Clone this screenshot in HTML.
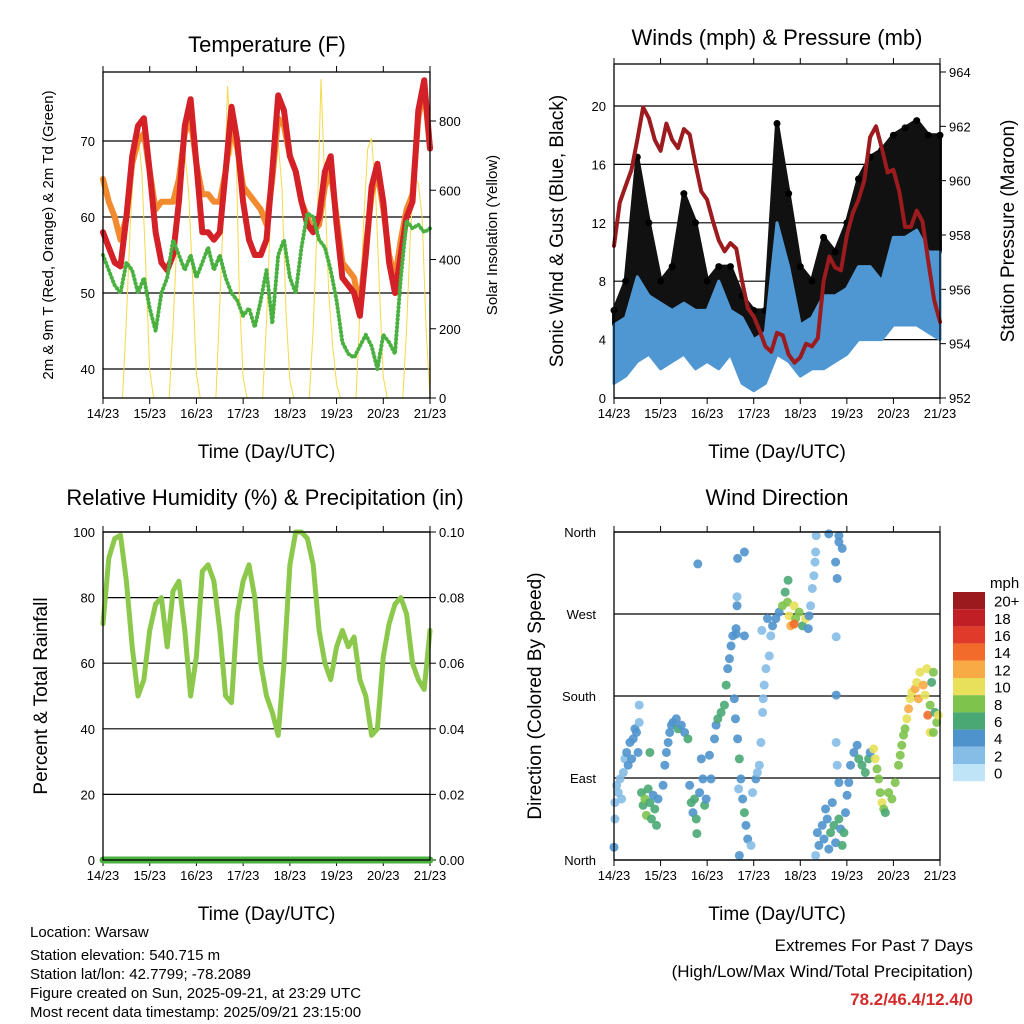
<!DOCTYPE html>
<html><head><meta charset="utf-8"><style>
html,body{margin:0;padding:0;background:#fff;}
svg{display:block;font-family:"Liberation Sans",sans-serif;}
</style></head><body>
<svg id="s" width="1024" height="1024" viewBox="0 0 1024 1024" xmlns="http://www.w3.org/2000/svg">
<rect width="1024" height="1024" fill="#fff"/>
<text x="267" y="52" font-size="22" text-anchor="middle">Temperature (F)</text>
<text x="777" y="45" font-size="22" text-anchor="middle">Winds (mph) &amp; Pressure (mb)</text>
<text x="265" y="505" font-size="22" text-anchor="middle">Relative Humidity (%) &amp; Precipitation (in)</text>
<text x="777" y="505" font-size="22" text-anchor="middle">Wind Direction</text>
<text x="53" y="235" font-size="15" text-anchor="middle" transform="rotate(-90 53 235)">2m &amp; 9m T (Red, Orange) &amp; 2m Td (Green)</text>
<text x="497" y="235" font-size="15" text-anchor="middle" transform="rotate(-90 497 235)">Solar Insolation (Yellow)</text>
<text x="563" y="231" font-size="19" text-anchor="middle" transform="rotate(-90 563 231)">Sonic Wind &amp; Gust (Blue, Black)</text>
<text x="1014" y="231" font-size="19" text-anchor="middle" transform="rotate(-90 1014 231)">Station Pressure (Maroon)</text>
<text x="47" y="696" font-size="19" text-anchor="middle" transform="rotate(-90 47 696)">Percent &amp; Total Rainfall</text>
<text x="541" y="696" font-size="19" text-anchor="middle" transform="rotate(-90 541 696)">Direction (Colored By Speed)</text>
<g font-size="15">
<text x="30" y="937">Location: Warsaw</text>
<text x="30" y="960">Station elevation: 540.715 m</text>
<text x="30" y="979">Station lat/lon: 42.7799; -78.2089</text>
<text x="30" y="998">Figure created on Sun, 2025-09-21, at 23:29 UTC</text>
<text x="30" y="1017">Most recent data timestamp: 2025/09/21 23:15:00</text>
</g>
<g font-size="17" text-anchor="end">
<text x="973" y="951">Extremes For Past 7 Days</text>
<text x="973" y="977">(High/Low/Max Wind/Total Precipitation)</text>
<text x="973" y="1005" font-weight="bold" fill="#d42a2a">78.2/46.4/12.4/0</text>
</g>
</svg>
<script>
// ---- data ----
const dayLabels=["14/23","15/23","16/23","17/23","18/23","19/23","20/23","21/23"];
const temp2m=[58,56,54,53.5,60,68,72,73,66,58,54,53,55,62,72,75.5,67,58,58,57,58,66,74.5,70,62,57,55,55,57,66,76,74,68,66,62,59,58,60,66,68,59,52,51,50,47,55,64,67,62,54,50,55,60,62,74,78,69];
const temp9m=[65,62,60,57,60,67,70,71,66,61,62,62,62,65,71,73,67,63,63,62,62,66,72,69,64,63,62,61,59,65,73,72,68,66,62,60,58,59,64,66,60,54,53,52,48,56,63,66,61,55,52,57,61,63,73,77,69];
const dewpoint=[55,53,51,50,54,53,50,52,48,45,50,52,57,55,53,55,52,54,56,53,55,52,50,49,47,48,45.5,49,53,46,55,57,52,50,56,60.5,60,57,56,53,49,43.5,42,41.5,43,44.5,43,40,44.5,43.5,42,52,59.5,58.5,59,58,58.5];
const solar=[0,0,0,0,0,0,230,500,690,770,650,380,80,0,0,0,0,0,210,460,640,710,600,350,70,0,0,0,0,0,270,560,900,700,820,300,60,0,0,0,0,0,220,520,760,740,600,250,50,0,0,0,0,0,200,500,920,600,300,150,40,0,0,0,0,0,250,520,720,750,600,320,60,0,0,0,0,0,200,480,640,620,520,200,0];
const tempTicks=[40,50,60,70];
const solarTicks=[0,200,400,600,800];
const windHi=[5,5.5,8.3,7,6.5,6,6.5,6,6,8,6,5.5,4,4.5,12,9,5,5.5,7,7,7.5,9,9,8,11,11,11.5,10,10];
const windLo=[1,1.5,2.5,3,2,2.5,3,2,2.5,2,3,1,0.5,1,3,2.5,1.5,2,2,2.5,3,4,4,4,5,5,5,4.5,4];
const gustHi=[6,8,16.5,12,8,9,14,12,8,9,9,7,6,6,18.8,14,9,8,11,10,12,15,16.5,17,18,18.5,19,18,18];
const pressure=[957.6,959.2,959.8,960.4,961.5,962.7,962.3,961.5,961.1,962.1,961.5,961.2,961.9,961.7,960.6,959.6,959.3,958.5,957.8,957.4,957.7,957.5,956.3,955.3,955.0,954.5,953.9,953.7,954.4,954.3,953.6,953.3,953.5,954.0,953.9,954.2,956.3,957.2,956.8,956.7,958.0,958.8,959.3,960.0,961.6,962.0,961.2,960.3,960.4,959.6,958.3,958.3,958.9,958.5,957.0,955.6,954.8];
const windTicks=[0,4,8,12,16,20];
const presTicks=[952,954,956,958,960,962,964];
const rh=[72,92,98,99,85,65,50,55,70,78,80,65,82,85,70,50,62,88,90,85,70,50,48,75,85,90,80,60,50,45,38,60,90,100,100,98,90,70,60,55,65,70,65,68,55,50,38,40,62,72,78,80,75,60,55,52,70];
const precip=[0,0,0,0,0,0,0,0];
const rhTicks=[0,20,40,60,80,100];
const precipTicks=["0.00","0.02","0.04","0.06","0.08","0.10"];
const dirHours=[0.5,1.4,2.2,3.1,3.9,4.8,5.6,6.5,7.3,8.2,9.1,9.9,10.8,11.6,12.4,13,13,0.5,0,14.2,15,15.9,16.7,17.6,18.5,19.3,20.2,21,21.9,18.5,22.7,25.3,26.2,27,27.9,28.7,29.6,30.4,32.1,33,34.7,36.4,38.1,43.2,39,39.8,40.7,41.5,42.4,42.7,44.1,45,45.8,46.7,47.5,49.2,50,51.8,52.6,53.5,55.2,56.9,57.8,58.6,59.5,60.3,61.2,62.9,67.2,62,62.6,63.7,64.6,65.4,66.3,67.2,68,68.9,64.6,70.6,71.4,73.1,73.9,74.9,63.7,67.2,63.4,63.4,62.9,64.2,75.7,76.6,76.9,77.4,78.3,80,80.8,76.2,79.1,81.7,83.4,85.1,86.8,88.2,89.4,90.2,91.1,92.8,93.6,89.7,95.4,97.1,98.8,100.5,100.1,92.8,101.3,102.2,103,103.6,103.9,104.2,110.7,115.9,117.6,114.2,115,115.9,114.5,114.5,114.5,115,115.9,104.8,105.6,107.3,108.2,109,109.9,110.7,111.6,112.5,113.3,114.2,115.9,116.8,117.6,118.5,119.3,103.9,120.1,121,121.9,123.6,125.3,126.1,127.8,129.5,131.2,132,133.8,134.6,135.5,136.4,137.2,138.1,139,139.8,141.5,143.2,144.9,146.6,147.5,148.3,149.2,150,150.9,151.8,152.6,153.5,155.2,156,156.9,157.7,159.4,160.3,161.2,161.7,162.9,163.7,164.6,165.4,166.3,167.1,162.9,164.6];
const dirDeg=[63,82,74,89,67,96,111,118,104,129,111,133,144,140,118,151,170,45,14,74,60,67,49,78,63,45,71,56,38,118,67,82,104,118,129,140,148,151,155,144,148,140,133,325,82,63,52,67,45,29,74,111,89,60,67,115,89,133,148,155,162,170,192,210,221,235,246,254,246,177,155,133,111,89,67,52,38,23,5,16,74,89,96,104,331,338,289,279,248,78,129,162,177,192,210,224,246,252,265,257,265,272,279,294,283,268,257,279,265,307,272,257,265,268,254,259,279,298,312,327,338,356,358,356,342,327,309,349,245,181,129,104,85,30,16,38,23,56,45,12,30,63,38,19,45,34,16,30,52,5,71,85,104,118,126,111,104,96,111,118,122,111,100,89,74,63,56,52,74,67,85,104,115,126,137,144,155,166,177,184,188,195,177,206,192,181,210,159,170,195,206,162,151,159,140,140];
const dirSpeed=[2,2,2,2,2,2,2,3,3,3,4,4,4,4,3,2,1,2,3,6,5,7,7,5,6,6,4,5,6,6,4,4,4,4,4,4,4,4,4,6,4,4,6,4,4,6,4,6,5,6,4,4,4,6,4,4,4,4,4,6,6,6,6,4,4,4,4,4,4,4,4,4,6,4,4,6,4,4,4,2,2,4,2,2,4,4,2,4,4,2,2,1,1,2,1,2,2,1,4,4,4,4,7,6,8,9,12,10,8,6,8,6,10,4,4,13,2,2,2,1,2,2,4,4,4,4,4,4,2,4,2,2,4,4,4,4,4,4,4,4,6,4,6,4,6,4,6,6,4,2,4,4,4,4,4,6,6,6,6,4,10,10,8,8,7,10,7,6,7,7,7,7,8,8,8,8,10,12,10,10,12,10,12,10,12,10,10,13,8,6,8,6,8,10,10,8];
const dirLabels=["North","East","South","West","North"];
const speedLevels=["0","2","4","6","8","10","12","14","16","18","20+"];
const speedColors=["#bfe4f7","#85bde7","#4f93cd","#4aa874","#7ec34c","#e8e05a","#f8aa45","#f26b2a","#e03a2a","#c01f26","#9a1a1e"];

const NS="http://www.w3.org/2000/svg";
const svg=document.getElementById('s');
function mk(tag,attrs,parent){const e=document.createElementNS(NS,tag);for(const k in attrs)e.setAttribute(k,attrs[k]);(parent||svg).appendChild(e);return e;}
function txt(x,y,s,size,anchor,parent){const t=mk('text',{x:x,y:y,'font-size':size,'text-anchor':anchor},parent);t.textContent=s;return t;}
function lin(d0,d1,r0,r1){return v=>r0+(v-d0)*(r1-r0)/(d1-d0);}

function frame(name,x0,x1,y0,y1){
  const g=mk('g',{});
  
  
  const X=lin(0,168,x0,x1);
  for(let i=0;i<dayLabels.length;i++){
    const x=X(i*24);
    mk('line',{x1:x,x2:x,y1:y1,y2:y1+6,stroke:'#000','stroke-width':1},g);
    mk('line',{x1:x,x2:x,y1:y0,y2:y0-6,stroke:'#000','stroke-width':1},g);
    const t=txt(x,y1+20,dayLabels[i],13,'middle',g);
    
    
  }
  const t=txt((x0+x1)/2,y1+60,'Time (Day/UTC)',19,'middle',g);
  
  
  return {g,X};
}
function box(x0,x1,y0,y1){mk('rect',{x:x0,y:y0,width:x1-x0,height:y1-y0,fill:'none',stroke:'#000','stroke-width':1.3});}
function grid(g,Y,ticks,x0,x1,labels,side){
  ticks.forEach((v,i)=>{const y=Y(v);
    mk('line',{x1:x0,x2:x1,y1:y,y2:y,stroke:'#000','stroke-width':1.2},g);
    const t=txt(side==='left'?x0-8:x1+8,y+5,labels?labels[i]:String(v),13,side==='left'?'end':'start',g);
    
    
  });
}
function rticks(g,Y,ticks,x1,labels){
  ticks.forEach((v,i)=>{const y=Y(v);
    mk('line',{x1:x1,x2:x1+6,y1:y,y2:y,stroke:'#000'},g);
    const t=txt(x1+9,y+5,labels?labels[i]:String(v),13,'start',g);
    
    
  });
}
function path(arr,X,Y,step,stroke,w,name,dots){
  let d='';arr.forEach((v,i)=>{d+=(i?'L':'M')+X(i*step).toFixed(1)+','+Y(v).toFixed(1);});
  const p=mk('path',{d:d,fill:'none',stroke:stroke,'stroke-width':w,'stroke-linejoin':'round','stroke-linecap':'round'});
  if(dots)p.setAttribute('stroke-dasharray','0.5 3.5');
  
  
  return p;
}

// ---- Panel 1: temperature ----
{const x0=103,x1=430,y0=72,y1=398;
 const f=frame('temperature',x0,x1,y0,y1);
 const Y=lin(40,70,369,141), YS=lin(0,800,398,121);
 grid(f.g,Y,tempTicks,x0,x1,null,'left');
 path(solar,f.X,YS,2,'#f6d94a',1,'solar-line');
 path(temp9m,f.X,Y,3,'#f28a30',6,'temp-9m-line');
 path(temp2m,f.X,Y,3,'#d42027',6,'temp-2m-line');
 path(dewpoint,f.X,Y,3,'#4ab040',4,'dewpoint-line',true);
 rticks(f.g,YS,solarTicks,x1);
 box(x0,x1,y0,y1);}

// ---- Panel 2: winds ----
{const x0=614,x1=940,y0=64,y1=398;
 const f=frame('winds',x0,x1,y0,y1);
 const Y=lin(0,20,398,106), YP=lin(952,964,398,72);
 grid(f.g,Y,windTicks,x0,x1,null,'left');
 let d='';gustHi.forEach((v,i)=>{d+=(i?'L':'M')+f.X(i*6)+','+Y(v);});
 for(let i=windHi.length-1;i>=0;i--)d+='L'+f.X(i*6)+','+Y(windHi[i]);
 const gp=mk('path',{d:d+'Z',fill:'#111',stroke:'#111','stroke-width':4,'stroke-linejoin':'round'});
 
 
 gustHi.forEach((v,i)=>{const c=mk('circle',{cx:f.X(i*6),cy:Y(v),r:3.5,fill:'#000'});
   
   });
 d='';windHi.forEach((v,i)=>{d+=(i?'L':'M')+f.X(i*6)+','+Y(v);});
 for(let i=windLo.length-1;i>=0;i--)d+='L'+f.X(i*6)+','+Y(windLo[i]);
 const wp=mk('path',{d:d+'Z',fill:'#4f97d2',stroke:'#4f97d2','stroke-width':3,'stroke-linejoin':'round'});
 
 
 path(pressure,f.X,YP,3,'#9b1b1e',4,'pressure-line');
 rticks(f.g,YP,presTicks,x1);
 box(x0,x1,y0,y1);}

// ---- Panel 3: humidity ----
{const x0=103,x1=430,y0=532,y1=860;
 const f=frame('humidity',x0,x1,y0,y1);
 const Y=lin(0,100,860,532), YR=lin(0,0.1,860,532);
 grid(f.g,Y,rhTicks,x0,x1,null,'left');
 rticks(f.g,Y,rhTicks,x1,precipTicks);
 path(rh,f.X,Y,3,'#8cc84b',5,'humidity-line');
 path(precip,f.X,YR,24,'#4ab040',7,'precipitation-line');
 box(x0,x1,y0,y1);}

// ---- Panel 4: direction ----
{const x0=614,x1=940,y0=532,y1=860;
 const f=frame('direction',x0,x1,y0,y1);
 const Y=lin(0,360,860,532);
 [0,90,180,270,360].forEach((v,i)=>{const y=Y(v);
   mk('line',{x1:x0,x2:x1,y1:y,y2:y,stroke:'#000','stroke-width':1.2},f.g);
   const t=txt(x0-18,y+5,dirLabels[i],13,'end',f.g);
   
   });
 dirHours.forEach((h,i)=>{const si=Math.min(10,Math.round(dirSpeed[i]/2));
   const c=mk('circle',{cx:f.X(h),cy:Y(dirDeg[i]),r:4.5,fill:speedColors[si],'fill-opacity':0.9});
   
   });
 box(x0,x1,y0,y1);
 const cb=mk('g',{});
 
 
 const h=17.2, top=592;
 txt(990,588,'mph',15,'start',cb);
 for(let i=0;i<speedLevels.length;i++){const k=speedLevels.length-1-i;
   mk('rect',{x:953,y:top+i*h,width:32,height:h,fill:speedColors[k]},cb);
   const t=txt(994,top+i*h+h/2+6,speedLevels[k],15,'start',cb);
   
   }
}
</script>
</body></html>
